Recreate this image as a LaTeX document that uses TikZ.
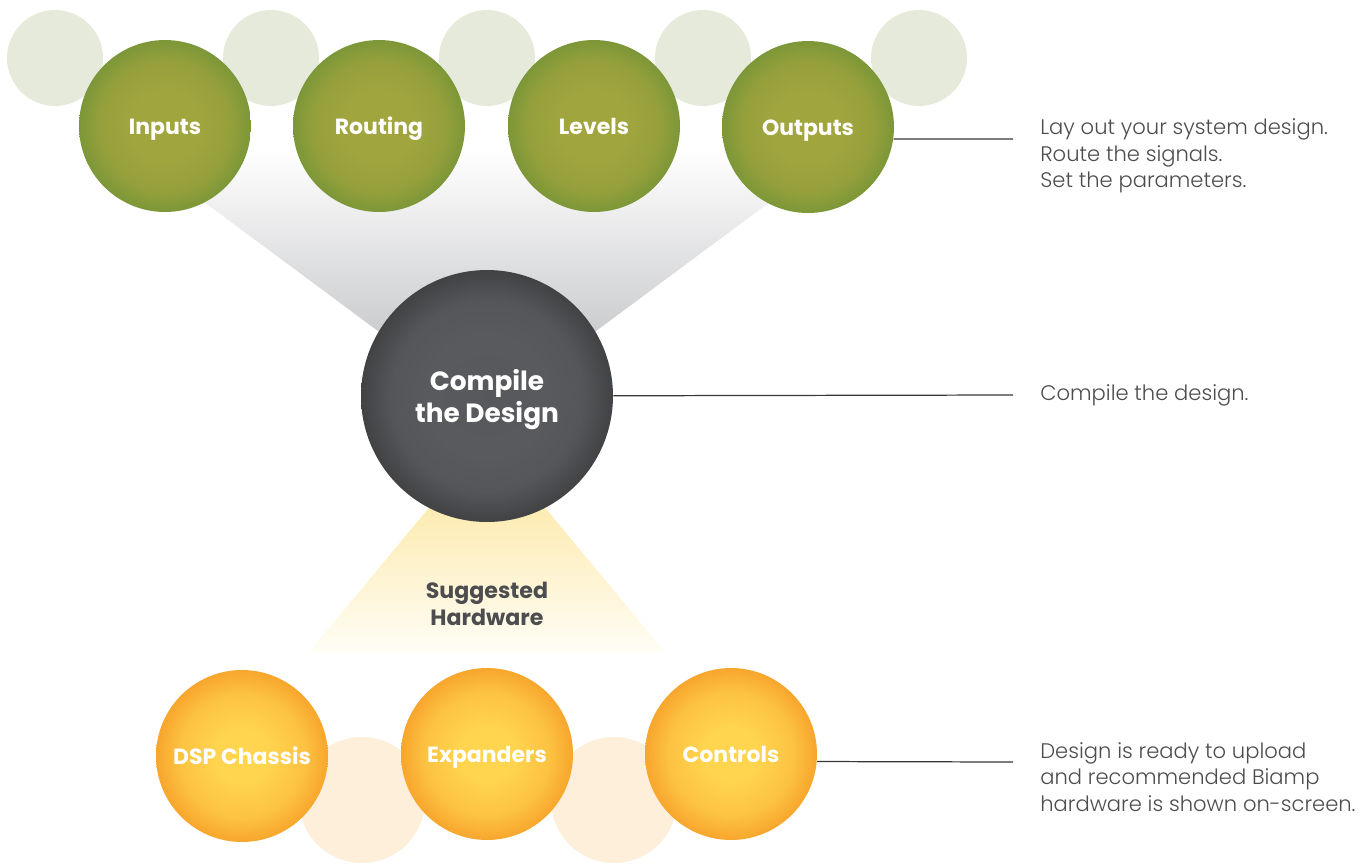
\documentclass[tikz,border=0pt]{standalone}
\usepackage{fontspec}
\setmainfont{Poppins}
\newfontfamily\lightfont{Poppins}[UprightFont=* Light]

\definecolor{greenin}{RGB}{161,165,62}
\definecolor{greenout}{RGB}{120,149,55}
\definecolor{darkin}{RGB}{89,90,93}
\definecolor{darkout}{RGB}{62,63,65}
\definecolor{orangein}{RGB}{255,212,78}
\definecolor{orangeout}{RGB}{247,162,42}
\definecolor{palegreen}{RGB}{229,234,218}
\definecolor{paleorange}{RGB}{253,239,217}
\definecolor{fangray}{RGB}{196,197,200}
\definecolor{fanyellow}{RGB}{253,232,165}
\definecolor{fanfade}{RGB}{255,253,245}
\definecolor{notegray}{RGB}{77,77,79}
\definecolor{linegray}{RGB}{55,55,57}

\pgfdeclareradialshading{greenball}{\pgfpointorigin}{color(0bp)=(greenin); color(10bp)=(greenin); color(19bp)=(greenin!70!greenout); color(26bp)=(greenout); color(50bp)=(greenout)}
\pgfdeclareradialshading{darkball}{\pgfpointorigin}{color(0bp)=(darkin!94!darkout); color(12bp)=(darkin); color(19bp)=(darkin!85!darkout); color(26bp)=(darkout); color(50bp)=(darkout)}
\pgfdeclareradialshading{orangeball}{\pgfpointorigin}{color(0bp)=(orangein); color(8bp)=(orangein); color(18bp)=(orangein!65!orangeout); color(26bp)=(orangeout); color(50bp)=(orangeout)}

\begin{document}
\begin{tikzpicture}[x=0.02cm, y=-0.02cm,
    ghost/.style={circle, inner sep=0, minimum size=#1},
    ball/.style={circle, shade, inner sep=0, minimum size=3.44cm, text=white, align=center,
      font=\bfseries\fontsize{12.5}{15}\selectfont},
    oneline/.style={text height=1em, text depth=0pt},
    note/.style={anchor=west, inner sep=0, align=left, text=notegray,
      font=\lightfont\fontsize{12}{15}\selectfont},
    link/.style={draw=linegray, line width=0.7pt}]
  \useasboundingbox (0,0) rectangle (1363,863);

  % pale circles behind
  \foreach \x [count=\i] in {55,271,487,703,919}
    \node[ghost=1.92cm, fill=palegreen] (pg\i) at (\x,58) {};
  \node[ghost=2.52cm, fill=paleorange] (po1) at (362,800) {};
  \node[ghost=2.52cm, fill=paleorange] (po2) at (614,800) {};

  % fans
  \shade[top color=white, bottom color=fangray] (134,150) -- (840,150) -- (557,360) -- (417,360) -- cycle;
  \shade[top color=fanyellow, bottom color=fanfade] (452,480) -- (522,480) -- (665,652) -- (309,652) -- cycle;

  % design steps
  \node[ball, oneline, shading=greenball] (inputs) at (165,126) {Inputs};
  \node[ball, oneline, shading=greenball] (routing) at (379,126) {Routing};
  \node[ball, oneline, shading=greenball] (levels) at (594,126) {Levels};
  \node[ball, oneline, shading=greenball] (outputs) at (808,127) {Outputs};

  \node[ball, shading=darkball, minimum size=5.04cm, text depth=0pt,
    font=\bfseries\fontsize{15}{18}\selectfont] (compile) at (487,396) {Compile\\the Design};

  \node[align=center, text=notegray, font=\bfseries\fontsize{12.6}{15}\selectfont] (hw) at (487,604) {Suggested\\Hardware};

  % hardware
  \node[ball, oneline, shading=orangeball] (dsp) at (242,756) {DSP Chassis};
  \node[ball, oneline, shading=orangeball] (expanders) at (487,754) {Expanders};
  \node[ball, oneline, shading=orangeball] (controls) at (731,754) {Controls};

  % notes
  \node[note] (laytxt) at (1040,156) {Lay out your system design.\\Route the signals.\\Set the parameters.};
  \node[note] (comptxt) at (1040,395) {Compile the design.};
  \node[note] (readytxt) at (1040,777) {Design is ready to upload\\and recommended Biamp\\hardware is shown on-screen.};

  \coordinate (e1) at (1013,139);
  \coordinate (e2) at (1013,395);
  \coordinate (e3) at (1013,762);
  \draw[link] (outputs.-8) -- (e1);
  \draw[link] (compile) -- (e2);
  \draw[link] (controls.-5) -- (e3);
\end{tikzpicture}
\end{document}
